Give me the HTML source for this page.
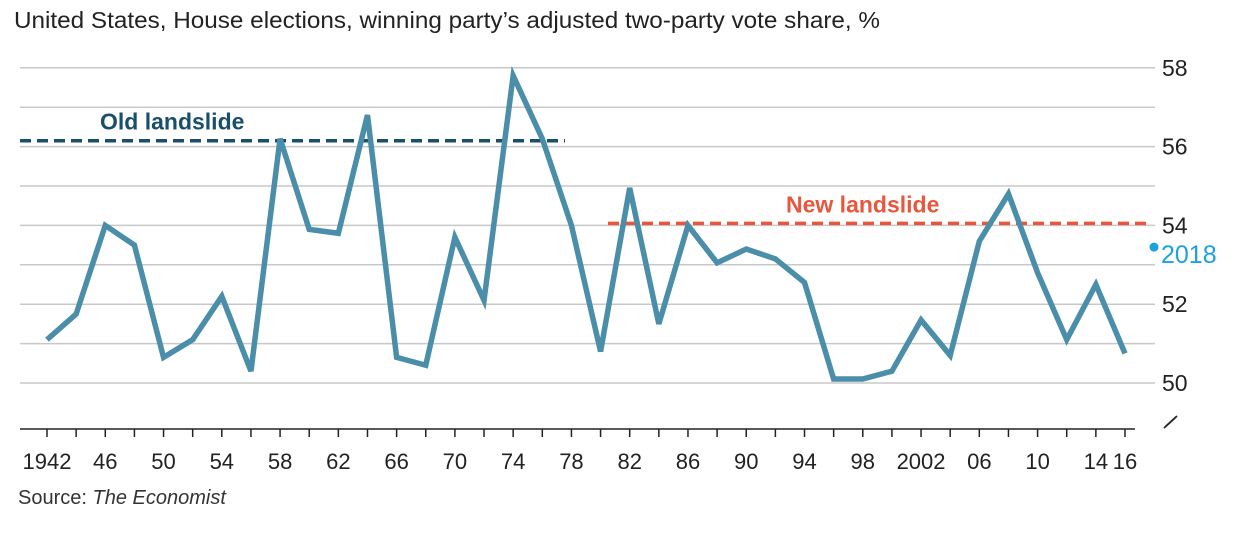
<!DOCTYPE html>
<html><head><meta charset="utf-8"><style>
body{margin:0;background:#fff;width:1235px;height:528px;overflow:hidden;font-family:"Liberation Sans",sans-serif}
</style></head><body>
<svg id="chart" width="1235" height="528" xmlns="http://www.w3.org/2000/svg">
<text x="14" y="28" font-size="23" fill="#222" textLength="866" lengthAdjust="spacingAndGlyphs">United States, House elections, winning party’s adjusted two-party vote share, %</text>
<g id="grid"></g><g id="xaxis"></g><g id="lines"></g>
<text x="18" y="504" font-size="20" fill="#333">Source: <tspan font-style="italic">The Economist</tspan></text>
</svg>
<script>
const years=[1942,1944,1946,1948,1950,1952,1954,1956,1958,1960,1962,1964,1966,1968,1970,1972,1974,1976,1978,1980,1982,1984,1986,1988,1990,1992,1994,1996,1998,2000,2002,2004,2006,2008,2010,2012,2014,2016];
const shares=[51.1,51.75,54.0,53.5,50.65,51.1,52.2,50.3,56.2,53.9,53.8,56.8,50.65,50.45,53.7,52.1,57.8,56.2,54.0,50.8,54.95,51.5,54.0,53.05,53.4,53.15,52.55,50.1,50.1,50.3,51.6,50.7,53.6,54.8,52.8,51.1,52.5,50.75];
const yTicks=[50,51,52,53,54,55,56,57,58];
const yLabels=[50,52,54,56,58];
const xLabels=[[1942,"1942"],[1946,"46"],[1950,"50"],[1954,"54"],[1958,"58"],[1962,"62"],[1966,"66"],[1970,"70"],[1974,"74"],[1978,"78"],[1982,"82"],[1986,"86"],[1990,"90"],[1994,"94"],[1998,"98"],[2002,"2002"],[2006,"06"],[2010,"10"],[2014,"14"],[2016,"16"]];
const oldLandslide=56.15, newLandslide=54.05, est2018=53.45;
const NS="http://www.w3.org/2000/svg";
const X=y=>47+(y-1942)*(1125-47)/74;
const Y=v=>383-(v-50)*39.4;
function mk(t,a,p){const e=document.createElementNS(NS,t);for(const k in a)e.setAttribute(k,a[k]);p.appendChild(e);return e;}
const grid=document.getElementById('grid'),xa=document.getElementById('xaxis'),ln=document.getElementById('lines');
yTicks.forEach(v=>{const l=mk('line',{x1:20,x2:1155,y1:Y(v),y2:Y(v),stroke:'#c8c8c8','stroke-width':1.5},grid);

});
yLabels.forEach(v=>{const t=mk('text',{x:1162,y:Y(v)+8,'font-size':23,fill:'#222'},grid);t.textContent=v;

});
const br=mk('path',{d:'M1164,428 L1175,418 L1166,426 L1177,416',fill:'none',stroke:'#222','stroke-width':1.8},grid);


const ax=mk('line',{x1:20,x2:1135,y1:429,y2:429,stroke:'#222','stroke-width':1.5},xa);


for(let y=1942;y<=2016;y+=2){const t=mk('line',{x1:X(y),x2:X(y),y1:429,y2:437,stroke:'#222','stroke-width':1.5},xa);

}
xLabels.forEach(([y,s])=>{const t=mk('text',{x:X(y),y:469,'font-size':22,fill:'#222','text-anchor':'middle'},xa);t.textContent=s;

});
const ol=mk('line',{x1:20,x2:565,y1:Y(oldLandslide),y2:Y(oldLandslide),stroke:'#1a4f6a','stroke-width':3.5,'stroke-dasharray':'11 6'},ln);


const olt=mk('text',{x:100,y:Y(oldLandslide)-11,'font-size':23,'font-weight':'bold',fill:'#1a4f6a'},ln);olt.textContent='Old landslide';


const nl=mk('line',{x1:608,x2:1150,y1:Y(newLandslide),y2:Y(newLandslide),stroke:'#e8563c','stroke-width':3.5,'stroke-dasharray':'11 6'},ln);


const nlt=mk('text',{x:786,y:Y(newLandslide)-11,'font-size':23,'font-weight':'bold',fill:'#e8563c'},ln);nlt.textContent='New landslide';


const pl=mk('polyline',{points:years.map((y,i)=>X(y)+','+Y(shares[i])).join(' '),fill:'none',stroke:'#4a8ea9','stroke-width':5.5,'stroke-linejoin':'miter'},ln);


const d=mk('circle',{cx:1154,cy:Y(est2018),r:4.5,fill:'#1aa1e0'},ln);


const dt=mk('text',{x:1161,y:Y(est2018)+16,'font-size':25,fill:'#1aa1e0'},ln);dt.textContent='2018';


</script>
</body></html>
